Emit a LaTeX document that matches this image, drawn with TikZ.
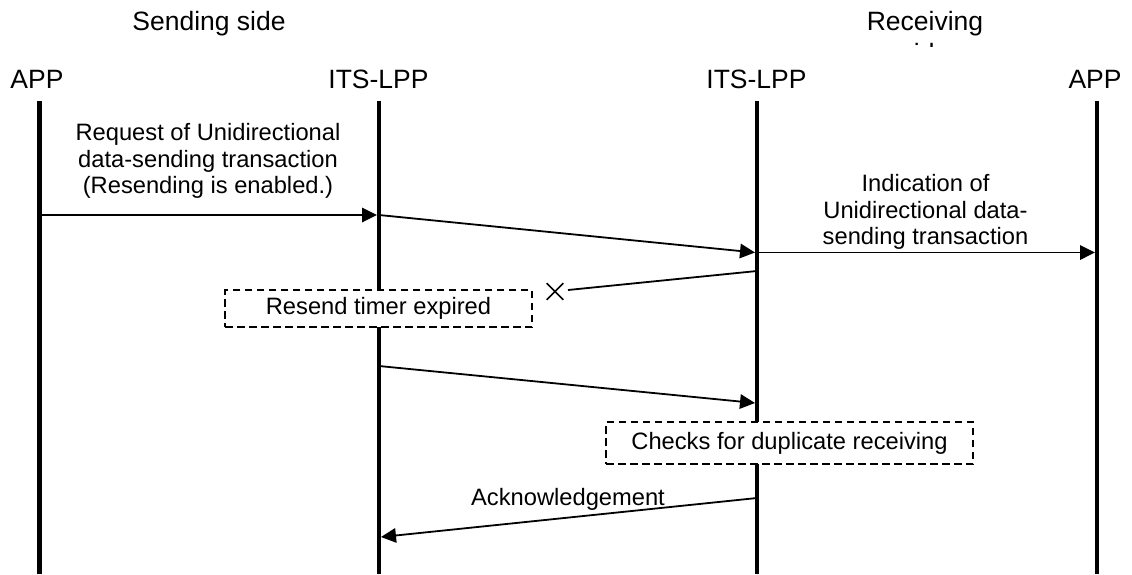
\documentclass[tikz,border=0pt]{standalone}
\usepackage{fontspec}
\setmainfont{Liberation Sans}
\usetikzlibrary{arrows.meta,shapes.misc}
\begin{document}
\begin{tikzpicture}[x=1pt,y=-1pt,
  lifeline/.style={line width=4.5pt},
  msg/.style={line width=1.8pt,-{Triangle[length=15pt,width=14.5pt]}},
  lostline/.style={line width=1.8pt},
  head/.style={font=\fontsize{26.5}{30.5}\selectfont, inner sep=0pt, anchor=base},
  msgtext/.style={font=\fontsize{23.7}{26.3}\selectfont, align=center, inner sep=0pt},
  notebox/.style={draw, dash pattern=on 7.5pt off 4.5pt, line width=1.5pt, fill=white,
    font=\fontsize{23.7}{26.3}\selectfont, inner sep=0pt},
  crossmark/.style={draw, cross out, line width=1.7pt, minimum size=15pt, inner sep=0pt}]
\useasboundingbox (0,0) rectangle (1132,574);
\fill[white] (0,0) rectangle (1132,574);
% headings
\node[head] (send) at (209,30) {Sending side};
\begin{scope}
  \clip (780,0) rectangle (1132,46.5);
  \node[head] (recv1) at (925,30) {Receiving};
  \node[head] (recv2) at (925,62) {side};
\end{scope}
\node[head] (appL) at (37,88) {APP};
\node[head] (lppL) at (378.5,88) {ITS-LPP};
\node[head] (lppR) at (756.5,88) {ITS-LPP};
\node[head] (appR) at (1095,88) {APP};
% lifelines
\coordinate (aLt) at (39.5,101); \coordinate (aLb) at (39.5,574);
\coordinate (lLt) at (379,101);  \coordinate (lLb) at (379,574);
\coordinate (lRt) at (757,101);  \coordinate (lRb) at (757,574);
\coordinate (aRt) at (1097,101); \coordinate (aRb) at (1097,574);
\draw[lifeline] (aLt) -- (aLb);
\draw[lifeline] (lLt) -- (lLb);
\draw[lifeline] (lRt) -- (lRb);
\draw[lifeline] (aRt) -- (aRb);
% note boxes
\node[notebox, minimum width=307pt, minimum height=37pt] (resend) at (378.5,308.5) {Resend timer expired};
\node[notebox, minimum width=367pt, minimum height=42pt] (checks) at (789.5,443) {Checks for duplicate receiving};
% message points
\coordinate (m1s) at (39.5,215);  \coordinate (m1e) at (377,215);
\coordinate (m2s) at (379,215);   \coordinate (m2e) at (755,252.5);
\coordinate (m3s) at (757,252.5); \coordinate (m3e) at (1095,252.5);
\coordinate (m4s) at (757,271);   \coordinate (m4e) at (568,290);
\coordinate (m5s) at (379,366);   \coordinate (m5e) at (755,403);
\coordinate (m6s) at (757,498);   \coordinate (m6e) at (381,537);
% messages
\draw[msg] (m1s) -- (m1e);
\draw[msg] (m2s) -- (m2e);
\draw[msg] (m3s) -- (m3e);
\draw[lostline] (m4s) -- (m4e);
\node[crossmark] (lost) at (555,291.5) {};
\draw[msg] (m5s) -- (m5e);
\draw[msg] (m6s) -- (m6e);
% labels
\node[msgtext] (t1) at (208,161) {Request of Unidirectional\\data-sending transaction\\(Resending is enabled.)};
\node[msgtext] (t3) at (925.5,212) {Indication of\\Unidirectional data-\\sending transaction};
\node[msgtext, anchor=base] (t6) at (568,505) {Acknowledgement};
\end{tikzpicture}
\end{document}
